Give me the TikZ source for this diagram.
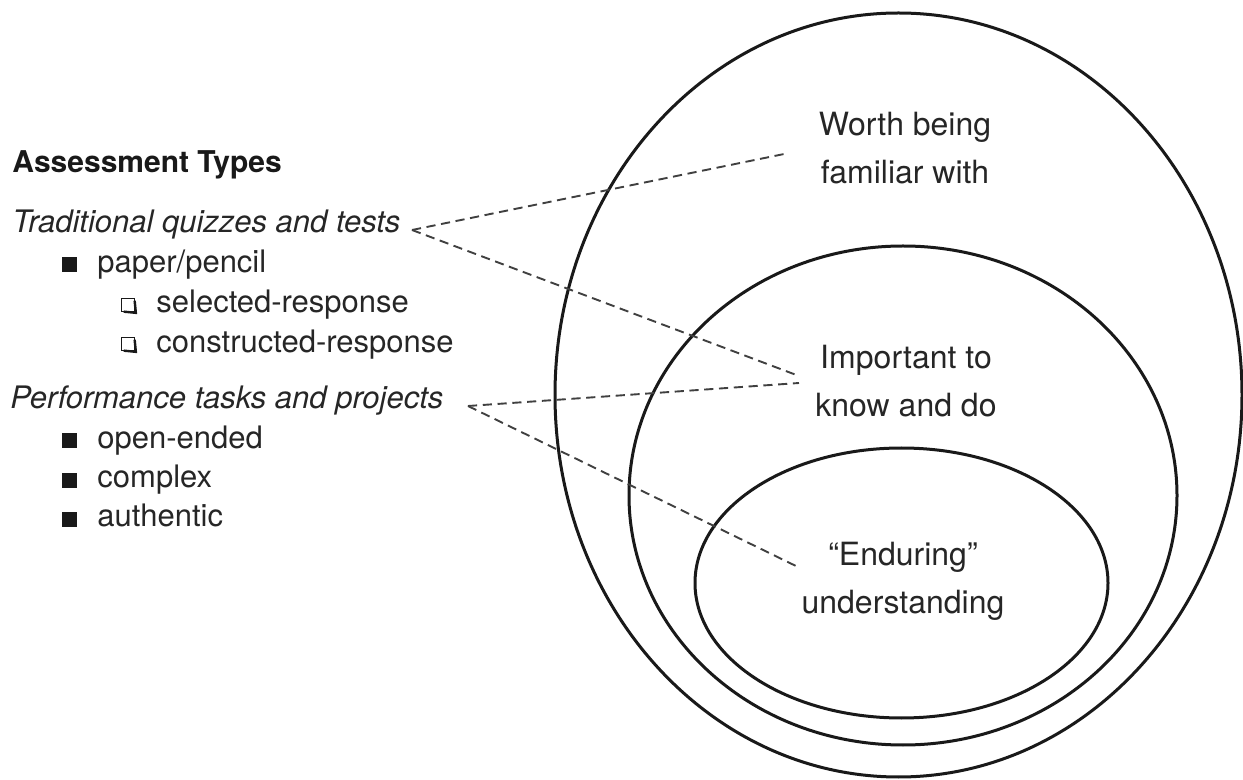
\documentclass[tikz,border=0pt]{standalone}
\usepackage{fontspec}
\setmainfont{TeX Gyre Heros}
\begin{document}
\begin{tikzpicture}[x=0.5pt,y=-0.5pt,
  ring/.style={draw=black!90, line width=1.5pt},
  link/.style={draw=black!75, line width=0.95pt, dash pattern=on 4.6pt off 2.8pt},
  lefttxt/.style={anchor=base west, inner sep=0pt, text=black!85, font=\fontsize{15.5}{18}\selectfont},
  headtxt/.style={anchor=base west, inner sep=0pt, text=black!90, font=\fontsize{15}{18}\selectfont\bfseries},
  ringlabel/.style={align=center, inner sep=0pt, text=black!85, font=\fontsize{16}{24}\selectfont},
  fullbullet/.style={fill=black!90, minimum size=7.5pt, inner sep=0pt},
  openbullet/.style={draw=black!90, line width=0.45pt, minimum size=6.2pt, inner sep=0pt},
]
\useasboundingbox (0,0) rectangle (1243,780);
% rings
\draw[ring] (898.5,395) ellipse [x radius=343.5, y radius=382];
\draw[ring] (903,495.5) ellipse [x radius=274, y radius=249.5];
\draw[ring] (901.5,583) ellipse [x radius=206.5, y radius=135];
% ring labels
\node[ringlabel] (worth) at (905,148) {Worth being\\familiar with};
\node[ringlabel] (important) at (906,381) {Important to\\know and do};
\node[ringlabel] (enduring) at (903,581) {“Enduring”\\understanding};
% left list
\node[headtxt] (head) at (12,173) {Assessment Types};
\node[lefttxt] (trad) at (12,233) {\itshape Traditional quizzes and tests};
\node[fullbullet] (b1) at (69,265) {};
\node[lefttxt] (paper) at (97,273) {paper/pencil};
\node[openbullet] (o1) at (128,305) {};
\draw[line width=1.2pt, black!90] ([xshift=1.2pt]o1.south west) -- ([xshift=0.6pt,yshift=-0.6pt]o1.south east) -- ([yshift=-1.2pt]o1.north east);
\node[lefttxt] (sel) at (156,313) {selected-response};
\node[openbullet] (o2) at (128,344) {};
\draw[line width=1.2pt, black!90] ([xshift=1.2pt]o2.south west) -- ([xshift=0.6pt,yshift=-0.6pt]o2.south east) -- ([yshift=-1.2pt]o2.north east);
\node[lefttxt] (con) at (156,353) {constructed-response};
\node[lefttxt] (perf) at (10,409) {\itshape Performance tasks and projects};
\node[fullbullet] (b2) at (69,441) {};
\node[lefttxt] (open) at (97,449) {open-ended};
\node[fullbullet] (b3) at (69,481) {};
\node[lefttxt] (comp) at (97,488) {complex};
\node[fullbullet] (b4) at (69,520) {};
\node[lefttxt] (auth) at (97,527) {authentic};
% connector ends
\coordinate (tq) at (412,230);
\coordinate (pt) at (468,406);
\coordinate (w) at (789,153);
\coordinate (i1) at (799,376);
\coordinate (i2) at (799,383);
\coordinate (e) at (798,567);
\draw[link] (tq) -- (w);
\draw[link] (tq) -- (i1);
\draw[link] (pt) -- (i2);
\draw[link] (pt) -- (e);
\end{tikzpicture}
\end{document}
